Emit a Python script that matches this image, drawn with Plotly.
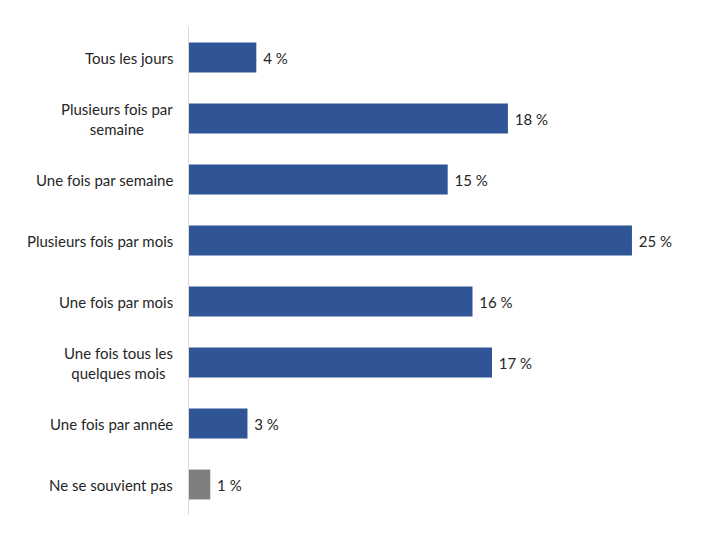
import plotly.graph_objects as go

categories = [
    "Tous les jours",
    "Plusieurs fois par<br>semaine",
    "Une fois par semaine",
    "Plusieurs fois par mois",
    "Une fois par mois",
    "Une fois tous les<br>quelques mois",
    "Une fois par année",
    "Ne se souvient pas",
]
values = [3.8, 18.0, 14.6, 25.0, 16.0, 17.1, 3.3, 1.2]
labels = [f"{round(v)} %" for v in values]
colors = ["#2F5597"] * 7 + ["#7F7F7F"]

FONT = "Lato"
TXT = "#262626"

fig = go.Figure(
    go.Bar(
        x=values,
        y=categories,
        orientation="h",
        marker=dict(color=colors, line=dict(width=0)),
        text=labels,
        texttemplate="\u00a0%{text}",
        textposition="outside",
        textfont=dict(family=FONT, size=15, color=TXT),
        cliponaxis=False,
    )
)

annotations = [
    dict(
        text=c, x=0, y=c, xref="paper", yref="y",
        xanchor="right", yanchor="middle", align="center",
        xshift=-14, showarrow=False,
        font=dict(family=FONT, size=15, color=TXT),
    )
    for c in categories
]

fig.update_layout(
    width=720, height=540,
    margin=dict(l=189, r=20, t=27, b=25),
    paper_bgcolor="white", plot_bgcolor="white",
    bargap=0.51,
    showlegend=False,
    annotations=annotations,
    xaxis=dict(range=[0, 28.84], showgrid=False, zeroline=False,
               showticklabels=False, showline=False),
    yaxis=dict(categoryorder="array", categoryarray=categories,
               autorange="reversed", showticklabels=False, showgrid=False,
               showline=True, linecolor="#D9D9D9", linewidth=1, ticks=""),
)

fig.write_html("out.html")
